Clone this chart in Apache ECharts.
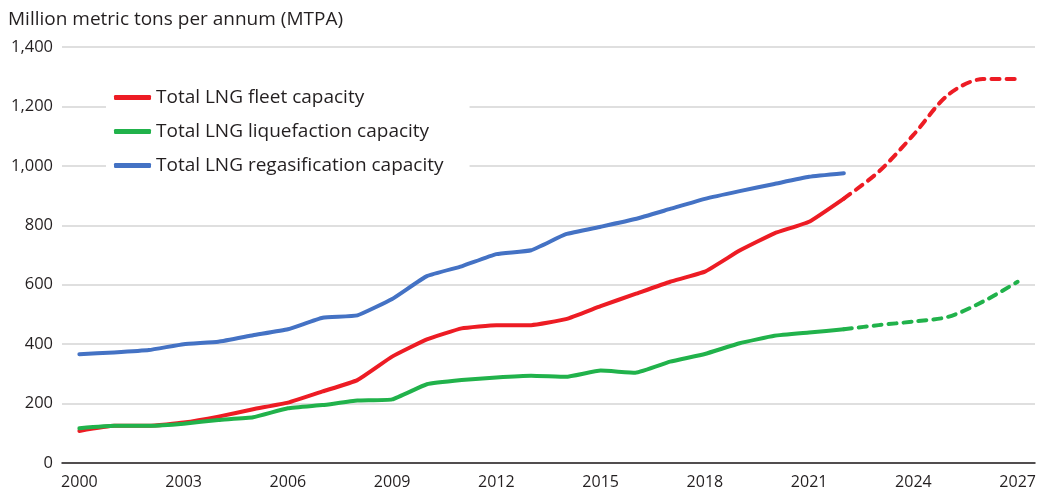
<!DOCTYPE html>
<html><head><meta charset="utf-8">
<script src="https://cdn.jsdelivr.net/npm/echarts@6/dist/echarts.min.js"></script>
<style>html,body{margin:0;padding:0;background:#fff}#c{width:1041px;height:491px}</style>
</head><body><div id="c"></div>
<script>
const years = ['2000','2001','2002','2003','2004','2005','2006','2007','2008','2009','2010','2011','2012','2013','2014','2015','2016','2017','2018','2019','2020','2021','2022','2023','2024','2025','2026','2027'];
const fleetActual = [108,125,125,136,156,181,203,241,279,358,416,453,464,464,484,528,569,610,644,715,773,812,890,null,null,null,null,null];
const fleetProjected = [null,null,null,null,null,null,null,null,null,null,null,null,null,null,null,null,null,null,null,null,null,null,890,980,1104,1239,1292,1292];
const liqActual = [117,125,125,132,145,154,184,195,210,214,265,279,288,294,290,311,304,341,367,403,428,439,450,null,null,null,null,null];
const liqProjected = [null,null,null,null,null,null,null,null,null,null,null,null,null,null,null,null,null,null,null,null,null,null,450,464,476,492,543,610];
const regas = [366,372,380,400,408,430,450,489,497,552,629,662,703,716,770,795,821,855,889,915,939,963,975,null,null,null,null,null];
const yTicks = [0,200,400,600,800,1000,1200,1400];
const names = ['Total LNG fleet capacity','Total LNG liquefaction capacity','Total LNG regasification capacity'];
const RED='#ed1c24', GREEN='#21b24b', BLUE='#4472c4';
const FONT = 'Open Sans';
const chart = echarts.init(document.getElementById('c'), null, {renderer:'canvas'});
const solid = (name, data, color) => ({name, type:'line', data, symbol:'none', smooth:0.12, connectNulls:false,
  lineStyle:{color, width:4, cap:'round', join:'round'}, itemStyle:{color}, z:3});
const dashed = (name, data, color) => ({name, type:'line', data, symbol:'none', smooth:0.3,
  lineStyle:{color, width:4, type:[8,7], cap:'round'}, itemStyle:{color}, z:2});
chart.setOption({
  animation:false,
  textStyle:{fontFamily:FONT},
  grid:{left:62, right:6, top:47, bottom:28},
  legend:{
    data:names, orient:'vertical', left:106, top:81, itemWidth:37, itemHeight:5, itemGap:13,
    icon:'roundRect', backgroundColor:'#fff', padding:[6,26,6,8],
    textStyle:{fontSize:19, color:'#231f20', fontFamily:FONT, lineHeight:21}
  },
  xAxis:{type:'category', data:years, boundaryGap:true,
    axisLine:{lineStyle:{color:'#231f20', width:1.5}}, axisTick:{show:false},
    axisLabel:{interval:2, fontSize:16, color:'#231f20', margin:11, fontFamily:FONT}},
  yAxis:{type:'value', min:yTicks[0], max:yTicks[yTicks.length-1], interval:200,
    name:'Million metric tons per annum (MTPA)', nameLocation:'end', nameGap:18,
    nameTextStyle:{fontSize:19, color:'#231f20', align:'left', padding:[0,0,0,-54], fontFamily:FONT},
    axisLine:{show:false}, axisTick:{show:false},
    axisLabel:{fontSize:16.5, color:'#231f20', margin:9, fontFamily:FONT},
    splitLine:{lineStyle:{color:'#d4d4d4', width:1.5}}},
  series:[
    solid(names[0], fleetActual, RED),
    solid(names[1], liqActual, GREEN),
    solid(names[2], regas, BLUE),
    dashed('fleet projected', fleetProjected, RED),
    dashed('liquefaction projected', liqProjected, GREEN)
  ]
});
</script></body></html>
